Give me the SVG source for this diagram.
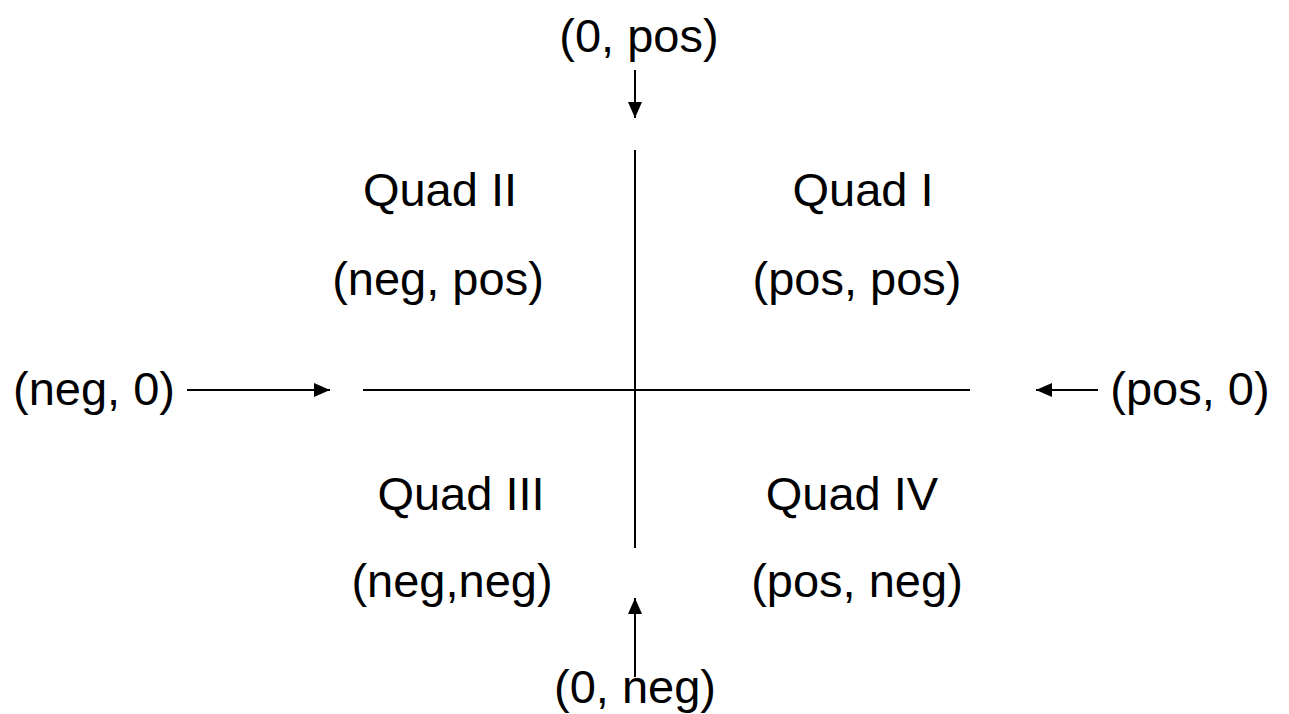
<svg xmlns="http://www.w3.org/2000/svg" width="1289" height="714" viewBox="0 0 1289 714">
  <style>
    .lbl { font-family: "Liberation Sans", Arial, sans-serif; font-size: 47px; fill: #000; text-anchor: middle; }
    .axis { stroke: #000; stroke-width: 2; fill: none; }
    .arrow { stroke: #000; stroke-width: 2; fill: none; marker-end: url(#head); }
  </style>
  <defs>
    <marker id="head" markerWidth="8" markerHeight="7" refX="8" refY="3.5" orient="auto" markerUnits="strokeWidth">
      <path d="M0,0 L8,3.5 L0,7 Z" fill="#000"/>
    </marker>
  </defs>
  <rect width="1289" height="714" fill="#fff"/>

  <!-- coordinate axes -->
  <g id="axes">
    <line class="axis" x1="635" y1="150" x2="635" y2="548"/>
    <line class="axis" x1="363" y1="390" x2="970" y2="390"/>
  </g>

  <!-- pointers from the axis labels -->
  <g id="connectors">
    <line class="arrow" x1="635" y1="70" x2="635" y2="118"/>
    <line class="arrow" x1="187" y1="390" x2="330" y2="390"/>
    <line class="arrow" x1="1098" y1="390" x2="1036" y2="390"/>
    <line class="arrow" x1="635" y1="677" x2="635" y2="598"/>
  </g>

  <g id="label-top"><text class="lbl" x="639" y="52">(0, pos)</text></g>
  <g id="label-left"><text class="lbl" x="94" y="405">(neg, 0)</text></g>
  <g id="label-right"><text class="lbl" x="1190" y="405">(pos, 0)</text></g>
  <g id="label-bottom"><text class="lbl" x="635" y="703">(0, neg)</text></g>

  <g id="quad-2">
    <text class="lbl" x="440" y="206">Quad II</text>
    <text class="lbl" x="438" y="295">(neg, pos)</text>
  </g>
  <g id="quad-1">
    <text class="lbl" x="863" y="206">Quad I</text>
    <text class="lbl" x="857" y="295">(pos, pos)</text>
  </g>
  <g id="quad-3">
    <text class="lbl" x="461" y="510">Quad III</text>
    <text class="lbl" x="452" y="597">(neg,neg)</text>
  </g>
  <g id="quad-4">
    <text class="lbl" x="852" y="510">Quad IV</text>
    <text class="lbl" x="857" y="597">(pos, neg)</text>
  </g>
</svg>
